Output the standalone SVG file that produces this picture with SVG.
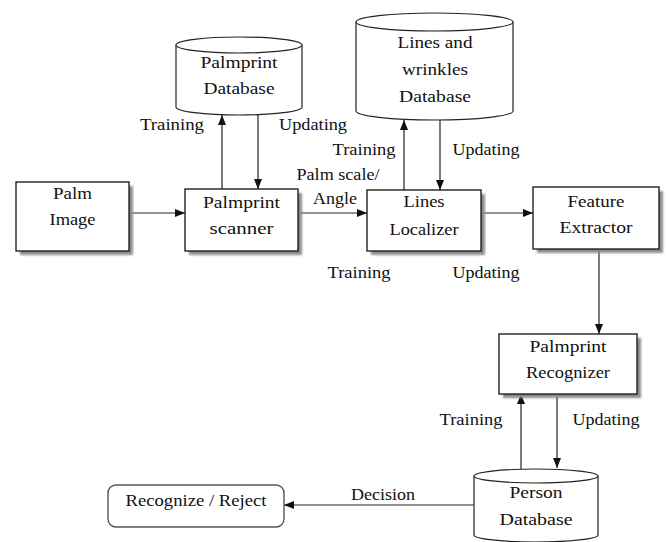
<svg xmlns="http://www.w3.org/2000/svg" width="667" height="542" viewBox="0 0 667 542">
  <defs>
    <marker id="arrow" viewBox="0 0 10 8" refX="10" refY="4" markerWidth="10" markerHeight="8" markerUnits="userSpaceOnUse" orient="auto">
      <path d="M0,0 L10,4 L0,8 Z" fill="#111"/>
    </marker>
    <filter id="soft" x="-10%" y="-10%" width="130%" height="130%">
      <feGaussianBlur stdDeviation="0.8"/>
    </filter>
  </defs>
  <style>
    text { font-family: "Liberation Serif", "Times New Roman", serif; font-size: 16px; fill: #111; text-anchor: middle; }
    .box { fill: #fff; stroke: #111; stroke-width: 1.3; }
    .shadow { fill: #8c8c8c; filter: url(#soft); }
    .db { fill: #fff; stroke: #222; stroke-width: 1.2; }
    .term { fill: #fff; stroke: #555; stroke-width: 1.4; }
    .link { fill: none; stroke: #222; stroke-width: 1.2; marker-end: url(#arrow); }
  </style>
  <rect width="667" height="542" fill="#fff"/>

  <!-- connectors -->
  <g id="connectors">
    <line class="link" x1="129" y1="213" x2="185" y2="213"/>
    <line class="link" x1="298" y1="213" x2="367" y2="213"/>
    <line class="link" x1="481" y1="213" x2="533" y2="213"/>
    <line class="link" x1="222" y1="189" x2="222" y2="115"/>
    <line class="link" x1="258" y1="115" x2="258" y2="189"/>
    <line class="link" x1="404" y1="190" x2="404" y2="120"/>
    <line class="link" x1="440" y1="120" x2="440" y2="190"/>
    <line class="link" x1="599" y1="249" x2="599" y2="334"/>
    <line class="link" x1="521" y1="469" x2="521" y2="394"/>
    <line class="link" x1="557" y1="394" x2="557" y2="468"/>
    <line class="link" x1="474" y1="505" x2="284" y2="505"/>
  </g>

  <!-- connector labels (wide setting via textLength) -->
  <g id="labels">
    <text x="172" y="130" textLength="64" lengthAdjust="spacingAndGlyphs">Training</text>
    <text x="313" y="130" textLength="68" lengthAdjust="spacingAndGlyphs">Updating</text>
    <text x="364" y="155" textLength="63" lengthAdjust="spacingAndGlyphs">Training</text>
    <text x="486" y="155" textLength="67" lengthAdjust="spacingAndGlyphs">Updating</text>
    <text x="338" y="180" textLength="83" lengthAdjust="spacingAndGlyphs">Palm scale/</text>
    <text x="335" y="204" textLength="44" lengthAdjust="spacingAndGlyphs">Angle</text>
    <text x="359" y="278" textLength="63" lengthAdjust="spacingAndGlyphs">Training</text>
    <text x="486" y="278" textLength="67" lengthAdjust="spacingAndGlyphs">Updating</text>
    <text x="471" y="425" textLength="63" lengthAdjust="spacingAndGlyphs">Training</text>
    <text x="606" y="425" textLength="67" lengthAdjust="spacingAndGlyphs">Updating</text>
    <text x="383" y="500" textLength="64" lengthAdjust="spacingAndGlyphs">Decision</text>
  </g>

  <!-- nodes -->
  <g id="palm-image">
    <rect class="shadow" x="20" y="186" width="113" height="69"/>
    <rect class="box" x="16" y="182" width="113" height="69"/>
    <text x="72.5" y="199" textLength="39" lengthAdjust="spacingAndGlyphs">Palm</text>
    <text x="72.5" y="225" textLength="46" lengthAdjust="spacingAndGlyphs">Image</text>
  </g>

  <g id="palmprint-scanner">
    <rect class="shadow" x="189" y="193" width="113" height="62"/>
    <rect class="box" x="185" y="189" width="113" height="62"/>
    <text x="241.5" y="208" textLength="77" lengthAdjust="spacingAndGlyphs">Palmprint</text>
    <text x="241.5" y="234" textLength="64" lengthAdjust="spacingAndGlyphs">scanner</text>
  </g>

  <g id="palmprint-database">
    <path class="db" d="M176,45 L176,107 A63,8 0 0 0 302,107 L302,45"/>
    <ellipse class="db" cx="239" cy="45" rx="63" ry="8"/>
    <text x="239" y="68" textLength="77" lengthAdjust="spacingAndGlyphs">Palmprint</text>
    <text x="239" y="94" textLength="71" lengthAdjust="spacingAndGlyphs">Database</text>
  </g>

  <g id="lines-database">
    <path class="db" d="M356,22 L356,111 A78.5,9 0 0 0 513,111 L513,22"/>
    <ellipse class="db" cx="434.5" cy="22" rx="78.5" ry="9"/>
    <text x="435" y="48" textLength="75" lengthAdjust="spacingAndGlyphs">Lines and</text>
    <text x="435" y="75" textLength="66" lengthAdjust="spacingAndGlyphs">wrinkles</text>
    <text x="435" y="102" textLength="72" lengthAdjust="spacingAndGlyphs">Database</text>
  </g>

  <g id="lines-localizer">
    <rect class="shadow" x="371" y="194" width="114" height="61"/>
    <rect class="box" x="367" y="190" width="114" height="61"/>
    <text x="424" y="207" textLength="41" lengthAdjust="spacingAndGlyphs">Lines</text>
    <text x="424" y="235" textLength="69" lengthAdjust="spacingAndGlyphs">Localizer</text>
  </g>

  <g id="feature-extractor">
    <rect class="shadow" x="537" y="191" width="126" height="62"/>
    <rect class="box" x="533" y="187" width="126" height="62"/>
    <text x="596" y="207" textLength="57" lengthAdjust="spacingAndGlyphs">Feature</text>
    <text x="596" y="233" textLength="73" lengthAdjust="spacingAndGlyphs">Extractor</text>
  </g>

  <g id="palmprint-recognizer">
    <rect class="shadow" x="503" y="338" width="138" height="60"/>
    <rect class="box" x="499" y="334" width="138" height="60"/>
    <text x="568" y="352" textLength="77" lengthAdjust="spacingAndGlyphs">Palmprint</text>
    <text x="568" y="378" textLength="84" lengthAdjust="spacingAndGlyphs">Recognizer</text>
  </g>

  <g id="person-database">
    <path class="db" d="M474,476 L474,535 A62,7 0 0 0 598,535 L598,476"/>
    <ellipse class="db" cx="536" cy="476" rx="62" ry="7"/>
    <text x="536" y="498" textLength="53" lengthAdjust="spacingAndGlyphs">Person</text>
    <text x="536" y="525" textLength="73" lengthAdjust="spacingAndGlyphs">Database</text>
  </g>

  <g id="recognize-reject">
    <rect class="term" x="108" y="485" width="176" height="42" rx="8" ry="8"/>
    <text x="196" y="506" textLength="141" lengthAdjust="spacingAndGlyphs">Recognize / Reject</text>
  </g>
</svg>
